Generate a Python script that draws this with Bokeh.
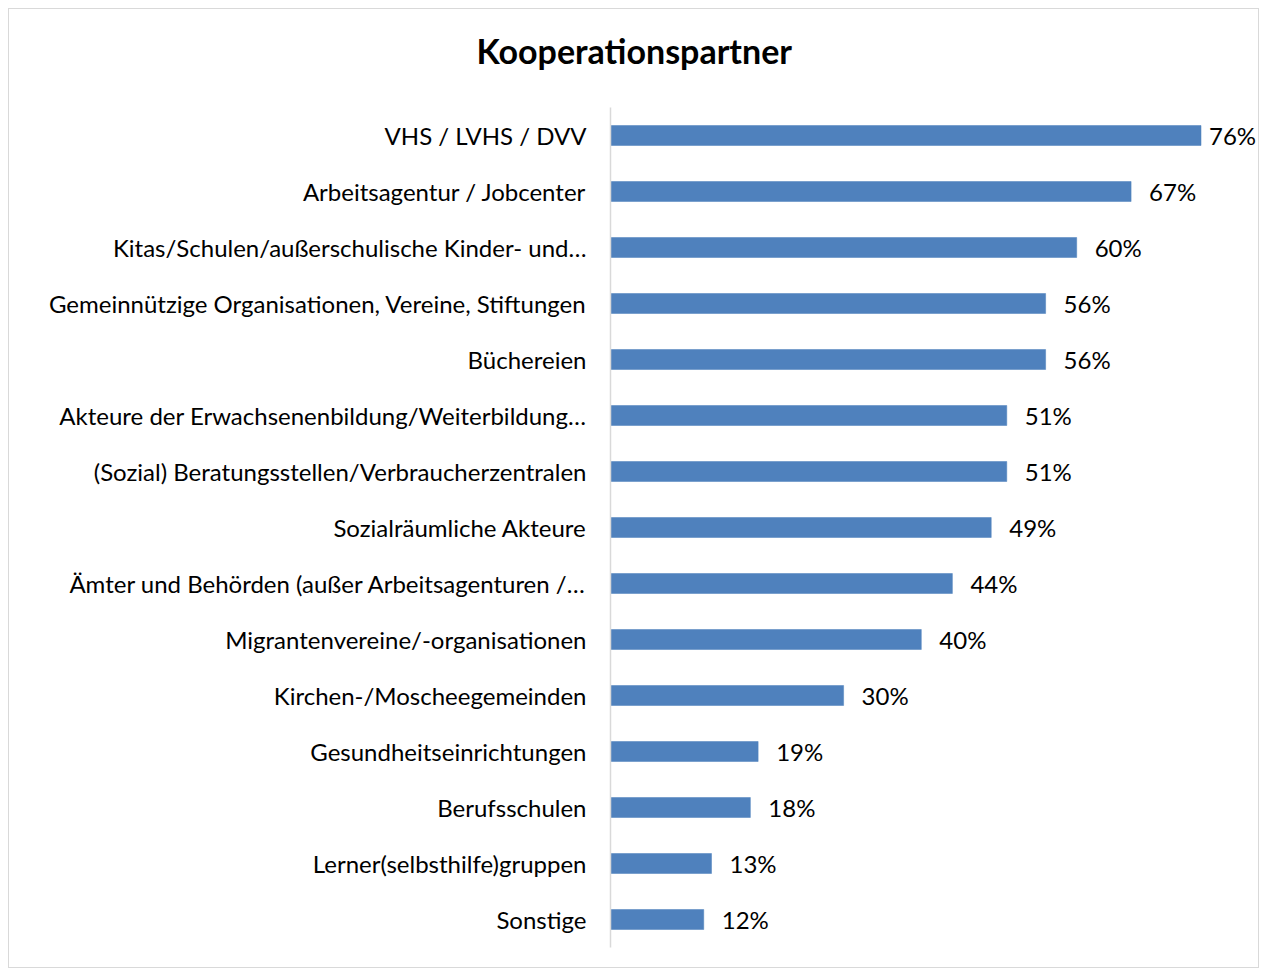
from bokeh.plotting import figure
from bokeh.models import ColumnDataSource, FactorRange, LabelSet, Range1d, Title
from bokeh.core.properties import value
from bokeh.embed import file_html
from bokeh.resources import INLINE

title_text = "Kooperationspartner"
categories = [
    "VHS / LVHS / DVV",
    "Arbeitsagentur / Jobcenter",
    "Kitas/Schulen/außerschulische Kinder- und…",
    "Gemeinnützige Organisationen, Vereine, Stiftungen",
    "Büchereien",
    "Akteure der Erwachsenenbildung/Weiterbildung…",
    "(Sozial) Beratungsstellen/Verbraucherzentralen",
    "Sozialräumliche Akteure",
    "Ämter und Behörden (außer Arbeitsagenturen /…",
    "Migrantenvereine/-organisationen",
    "Kirchen-/Moscheegemeinden",
    "Gesundheitseinrichtungen",
    "Berufsschulen",
    "Lerner(selbsthilfe)gruppen",
    "Sonstige",
]
values = [0.76, 0.67, 0.60, 0.56, 0.56, 0.51, 0.51, 0.49, 0.44, 0.40, 0.30, 0.19, 0.18, 0.13, 0.12]
value_labels = ["76%", "67%", "60%", "56%", "56%", "51%", "51%", "49%", "44%", "40%", "30%", "19%", "18%", "13%", "12%"]

FONT = "Lato"
W, H = 1251, 960
ML, MR, MT, MB = 601, 0, 98, 22
PX_PER_UNIT = 777.0

offsets = [8 if v == max(values) else 18 for v in values]
src = ColumnDataSource(dict(cat=categories, val=values, lab=value_labels, off=offsets))

frame_w = W - ML - MR
title = Title(text=title_text, align="left", offset=-134,
              standoff=10, text_font=FONT, text_font_size="34px",
              text_font_style="bold", text_color="#000000")

p = figure(
    width=W, height=H,
    y_range=FactorRange(factors=categories[::-1], range_padding=0),
    x_range=Range1d(0, frame_w / PX_PER_UNIT),
    output_backend="svg", toolbar_location=None,
    min_border_left=ML, min_border_right=MR, min_border_top=MT, min_border_bottom=MB,
    title=title,
)
# spacer between title and plot area
p.add_layout(Title(text=" ", text_font_size="2px", standoff=28), "above")

p.styles = {"border": "1px solid #d9d9d9", "margin-left": "8px", "margin-top": "8px"}
p.outline_line_color = None
p.xgrid.visible = False
p.ygrid.visible = False
p.xaxis.visible = False
p.background_fill_color = "white"
p.border_fill_color = "white"

p.hbar(y="cat", right="val", left=0, height=20/56, source=src,
       fill_color="#4F81BD", line_color="#4F81BD", line_width=0.5)

yax = p.yaxis[0]
yax.axis_line_color = "#d9d9d9"
yax.axis_line_width = 1.5
yax.major_tick_line_color = None
yax.minor_tick_line_color = None
yax.major_tick_out = 0
yax.major_tick_in = 0
yax.major_label_standoff = 24
yax.major_label_text_font = FONT
yax.major_label_text_font_size = "24px"
yax.major_label_text_color = "#000000"

labels = LabelSet(x="val", y="cat", text="lab", source=src, x_offset="off",
                  text_font=value(FONT), text_font_size=value("24px"),
                  text_color=value("#000000"),
                  text_align="left", text_baseline="middle")
p.add_layout(labels)

open("out.html", "w").write(file_html(p, INLINE))
